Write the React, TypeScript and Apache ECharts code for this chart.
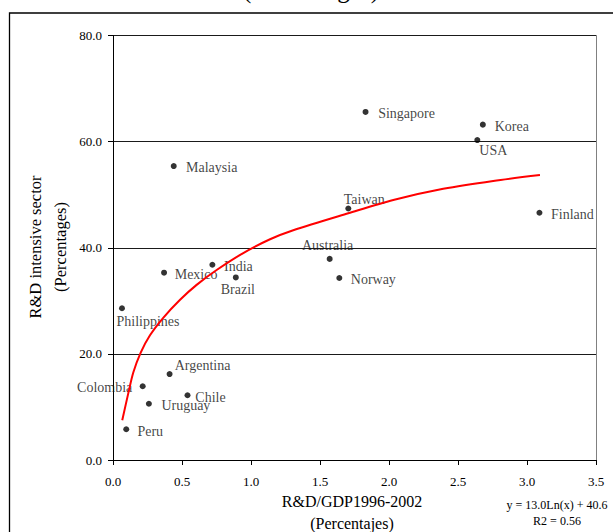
import React, { useEffect, useRef } from 'react';
import * as echarts from 'echarts';

const SERIF = '"Liberation Serif", "Times New Roman", serif';

// Scatter data: R&D/GDP 1996-2002 (%) vs share of R&D intensive sector (%)
const countries = ['Singapore', 'Korea', 'USA', 'Malaysia', 'Taiwan', 'Finland', 'Australia', 'Norway', 'India', 'Mexico', 'Brazil', 'Philippines', 'Argentina', 'Colombia', 'Chile', 'Uruguay', 'Peru'];
const rdGdp = [1.83, 2.68, 2.64, 0.44, 1.705, 3.09, 1.57, 1.64, 0.72, 0.37, 0.89, 0.065, 0.41, 0.215, 0.54, 0.26, 0.096];
const rdSector = [65.6, 63.2, 60.3, 55.4, 47.4, 46.6, 37.9, 34.3, 36.8, 35.3, 34.4, 28.6, 16.2, 13.9, 12.2, 10.6, 5.8];

// Logarithmic trend line
const trendX = [0.067, 0.111, 0.147, 0.2, 0.268, 0.364, 0.486, 0.606, 0.751, 0.944, 1.138, 1.306, 1.705, 2.031, 2.393, 2.755, 3.094];
const trendY = [7.5, 12.6, 16.5, 20.2, 23.5, 26.8, 30.2, 33.0, 35.8, 39.0, 41.6, 43.3, 46.5, 49.0, 51.1, 52.6, 53.7];

const titleLine = '(Percentages)';
const xTitle = 'R&D/GDP1996-2002\n(Percentajes)';
const yTitle = 'R&D intensive sector\n(Percentages)';
const equation = 'y = 13.0Ln(x) + 40.6';
const rSquared = 'R2 = 0.56';

// label centre offsets (px) from each marker
const labelOffset: Record<string, [number, number]> = {
  Singapore: [41, 2],
  Korea: [29, 2],
  USA: [16, 10],
  Malaysia: [38, 1],
  Taiwan: [16, -9],
  Finland: [33, 2],
  Australia: [-2, -13],
  Norway: [34, 2],
  India: [26, 2],
  Mexico: [32, 2],
  Brazil: [2, 12],
  Philippines: [26, 13],
  Argentina: [33, -9],
  Colombia: [-38, 1],
  Chile: [23, 2],
  Uruguay: [37, 2],
  Peru: [24, 2],
};

export default function App() {
  const ref = useRef<HTMLDivElement>(null);
  useEffect(() => {
    const chart = echarts.init(ref.current!, null, { renderer: 'svg' });
    chart.setOption({
      animation: false,
      backgroundColor: '#ffffff',
      grid: { left: 113, right: 17, top: 35.5, bottom: 72 },
      xAxis: {
        type: 'value',
        min: 0,
        max: 3.5,
        interval: 0.5,
        axisLine: { show: true, onZero: false, lineStyle: { color: '#000', width: 1 } },
        axisTick: { show: true, length: 5, lineStyle: { color: '#000' } },
        axisLabel: { formatter: (v: number) => v.toFixed(1), margin: 15, fontFamily: SERIF, fontSize: 13, color: '#000' },
        splitLine: { show: false },
      },
      yAxis: [
        {
          type: 'value',
          min: 0,
          max: 80,
          interval: 20,
          axisLine: { show: true, lineStyle: { color: '#000', width: 1 } },
          axisTick: { show: true, length: 5, lineStyle: { color: '#000' } },
          axisLabel: { formatter: (v: number) => v.toFixed(1), margin: 11, fontFamily: SERIF, fontSize: 13, color: '#000' },
          splitLine: { show: true, lineStyle: { color: '#1a1a1a', width: 1 } },
        },
        {
          type: 'value',
          position: 'right',
          min: 0,
          max: 80,
          interval: 20,
          axisLine: { show: true, lineStyle: { color: '#808080', width: 1 } },
          axisTick: { show: false },
          axisLabel: { show: false },
          splitLine: { show: false },
        },
      ],
      series: [
        {
          type: 'scatter',
          symbol: 'circle',
          symbolSize: 6,
          itemStyle: { color: '#000' },
          data: countries.map((c, i) => ({
            name: c,
            value: [rdGdp[i], rdSector[i]],
            label: { offset: labelOffset[c] },
          })),
          label: {
            show: true,
            position: 'inside',
            formatter: '{b}',
            fontFamily: SERIF,
            fontSize: 14,
            color: '#111',
          },
          z: 2,
        },
        {
          type: 'line',
          data: trendX.map((x, i) => [x, trendY[i]]),
          smooth: 0.3,
          showSymbol: false,
          lineStyle: { color: '#ff0000', width: 2 },
          z: 4,
        },
      ],
      graphic: [
        {
          type: 'rect',
          silent: true,
          shape: { x: 9.5, y: 13, width: 700, height: 600 },
          style: { fill: 'none', stroke: '#000', lineWidth: 1.3 },
        },
        {
          type: 'text',
          x: 311,
          y: -11,
          style: { text: titleLine, fontFamily: SERIF, fontSize: 25, fill: '#000', align: 'center', verticalAlign: 'middle' },
        },
        {
          type: 'text',
          x: 48,
          y: 247,
          rotation: Math.PI / 2,
          style: { text: yTitle, fontFamily: SERIF, fontSize: 16.5, lineHeight: 25, fill: '#000', align: 'center', verticalAlign: 'middle' },
        },
        {
          type: 'text',
          x: 352,
          y: 512.5,
          style: { text: xTitle, fontFamily: SERIF, fontSize: 16, lineHeight: 21.6, fill: '#000', align: 'center', verticalAlign: 'middle' },
        },
        {
          type: 'text',
          x: 557,
          y: 505,
          style: { text: equation, fontFamily: SERIF, fontSize: 12, fill: '#000', align: 'center', verticalAlign: 'middle' },
        },
        {
          type: 'text',
          x: 557,
          y: 521,
          style: { text: rSquared, fontFamily: SERIF, fontSize: 12, fill: '#000', align: 'center', verticalAlign: 'middle' },
        },
      ],
    });
    return () => chart.dispose();
  }, []);
  return <div ref={ref} style={{ position: 'fixed', left: 0, top: 0, width: 613, height: 532, background: '#fff' }} />;
}
